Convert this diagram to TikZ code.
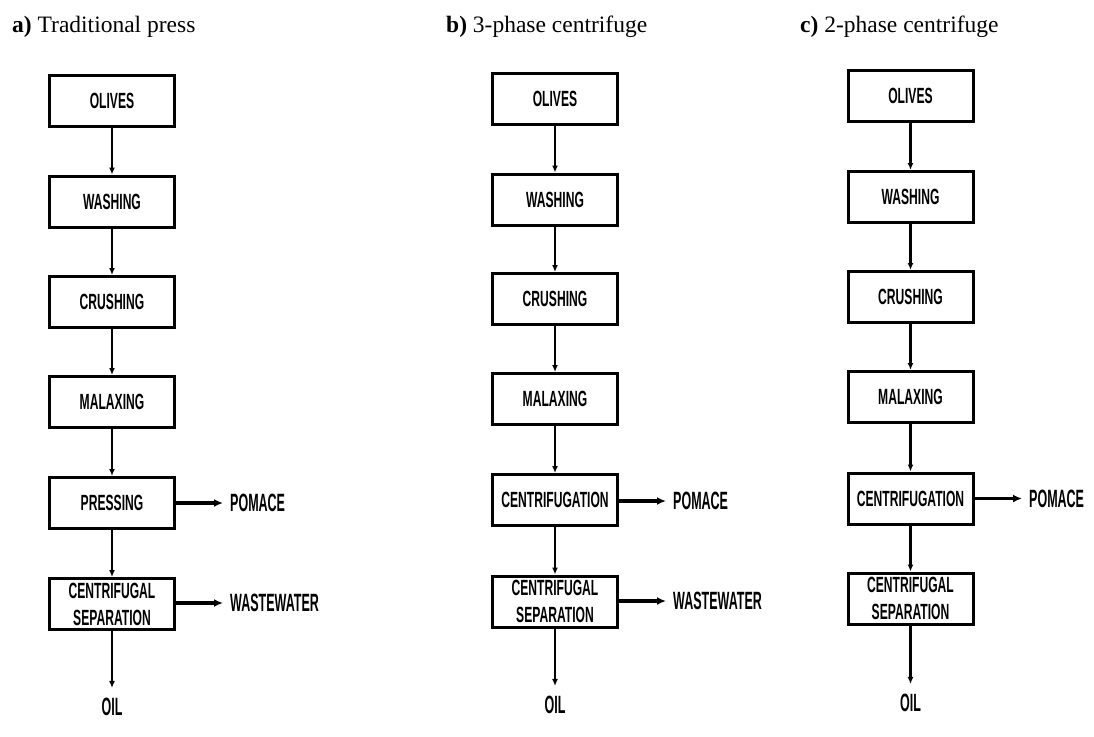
\documentclass[tikz,border=0pt]{standalone}
\usepackage{fontspec}
\setmainfont{Liberation Serif}
\newfontfamily\stagefont[FakeStretch=0.55]{Liberation Sans}
\newfontfamily\outfont[FakeStretch=0.5]{Liberation Sans}
\usetikzlibrary{arrows.meta}

\begin{document}
\begin{tikzpicture}[x=1pt, y=-1pt,
    stage/.style={draw, line width=3pt, minimum width=125pt, minimum height=51pt,
        inner sep=0pt, align=center, font=\stagefont\bfseries\fontsize{22}{27}\selectfont},
    product/.style={inner xsep=7pt, inner ysep=10pt, font=\outfont\bfseries\fontsize{25}{28}\selectfont},
    title/.style={anchor=base west, inner sep=0pt, font=\fontsize{23.5}{28}\selectfont},
    flow/.style={-{Latex[length=7pt,width=6pt]}, line width=2.6pt},
    side/.style={-{Latex[length=9pt,width=8pt]}, line width=3.2pt}]
    \useasboundingbox (0,0) rectangle (1094,736);

    % Titles
    \node[title] (titleA) at (12,32) {\textbf{a)} Traditional press};
    \node[title] (titleB) at (446,32) {\textbf{b)} 3-phase centrifuge};
    \node[title] (titleC) at (800,32) {\textbf{c)} 2-phase centrifuge};

    % a) Traditional press
    \node[stage] (olivesA) at (112,100.5) {OLIVES};
    \node[stage] (washA) at (112,201.5) {WASHING};
    \node[stage] (crushA) at (112,302) {CRUSHING};
    \node[stage] (malaxA) at (112,402) {MALAXING};
    \node[stage] (pressA) at (112,503) {PRESSING};
    \node[stage] (sepA) at (112,604) {CENTRIFUGAL\\SEPARATION};
    \node[product, anchor=west] (pomaceA) at (223,503) {POMACE};
    \node[product, anchor=west] (wasteA) at (223,603) {WASTEWATER};
    \node[product] (oilA) at (112,707) {OIL};
    \draw[flow] (olivesA) -- (washA);
    \draw[flow] (washA) -- (crushA);
    \draw[flow] (crushA) -- (malaxA);
    \draw[flow] (malaxA) -- (pressA);
    \draw[flow] (pressA) -- (sepA);
    \draw[flow] (sepA) -- (oilA);
    \draw[side] (pressA) -- (pomaceA);
    \draw[side] (sepA.east |- wasteA) -- (wasteA);

    % b) 3-phase centrifuge
    \node[stage] (olivesB) at (555,98.5) {OLIVES};
    \node[stage] (washB) at (555,199.5) {WASHING};
    \node[stage] (crushB) at (555,299) {CRUSHING};
    \node[stage] (malaxB) at (555,399) {MALAXING};
    \node[stage] (centB) at (555,500) {CENTRIFUGATION};
    \node[stage] (sepB) at (555,601.5) {CENTRIFUGAL\\SEPARATION};
    \node[product, anchor=west] (pomaceB) at (666,501) {POMACE};
    \node[product, anchor=west] (wasteB) at (666,601) {WASTEWATER};
    \node[product] (oilB) at (555,705) {OIL};
    \draw[flow] (olivesB) -- (washB);
    \draw[flow] (washB) -- (crushB);
    \draw[flow] (crushB) -- (malaxB);
    \draw[flow] (malaxB) -- (centB);
    \draw[flow] (centB) -- (sepB);
    \draw[flow] (sepB) -- (oilB);
    \draw[side] (centB.east |- pomaceB) -- (pomaceB);
    \draw[side] (sepB.east |- wasteB) -- (wasteB);

    % c) 2-phase centrifuge
    \node[stage] (olivesC) at (910.5,95.5) {OLIVES};
    \node[stage] (washC) at (910.5,197) {WASHING};
    \node[stage] (crushC) at (910.5,297) {CRUSHING};
    \node[stage] (malaxC) at (910.5,397) {MALAXING};
    \node[stage] (centC) at (910.5,498.5) {CENTRIFUGATION};
    \node[stage] (sepC) at (910.5,598.5) {CENTRIFUGAL\\SEPARATION};
    \node[product, anchor=west] (pomaceC) at (1022,498.5) {POMACE};
    \node[product] (oilC) at (910.5,703) {OIL};
    \draw[flow] (olivesC) -- (washC);
    \draw[flow] (washC) -- (crushC);
    \draw[flow] (crushC) -- (malaxC);
    \draw[flow] (malaxC) -- (centC);
    \draw[flow] (centC) -- (sepC);
    \draw[flow] (sepC) -- (oilC);
    \draw[side] (centC) -- (pomaceC);

\end{tikzpicture}
\end{document}
